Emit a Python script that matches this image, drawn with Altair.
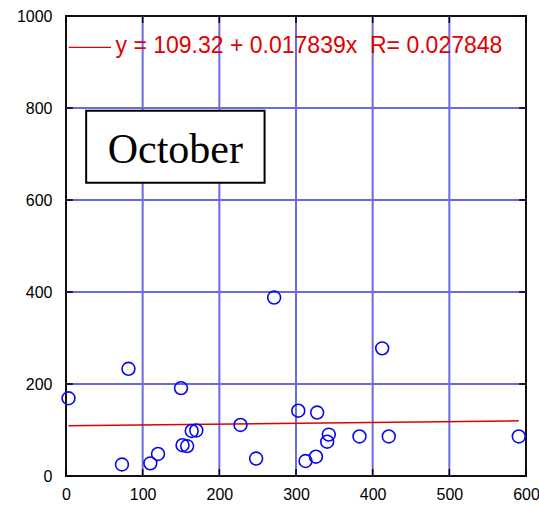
import altair as alt
import pandas as pd

# October observations
x_vals = [3.3, 81.5, 73, 110, 120, 150, 152, 158, 164, 170, 227.6, 248, 271.5,
          303, 312.4, 326, 327.6, 342.8, 340.7, 382.8, 412.4, 421, 590.6]
y_vals = [169, 233, 25, 27.5, 48, 191, 67, 65, 98, 99, 111, 38, 388,
          142, 32.6, 42, 138, 90, 74.6, 86, 277.5, 86, 86]

# linear fit y = a + b x
fit_a = 109.32
fit_b = 0.017839
fit_r = 0.027848

x_ticks = [0, 100, 200, 300, 400, 500, 600]
y_ticks = [0, 200, 400, 600, 800, 1000]
x_grid = [100, 200, 300, 400, 500]
y_grid = [200, 400, 600, 800]

pts = pd.DataFrame({"x": x_vals, "y": y_vals})
xmin, xmax = min(x_vals), max(x_vals)
fit = pd.DataFrame({"x": [xmin, xmax], "y": [fit_a + fit_b * xmin, fit_a + fit_b * xmax]})

xs = alt.Scale(domain=[0, 600], nice=False, zero=False)
ys = alt.Scale(domain=[0, 1000], nice=False, zero=False)
font = "Liberation Sans, Arial, sans-serif"
grid_color = "#6a6ae4"
red = "#e00000"

base = alt.Chart(pts)

points = base.mark_point(shape="circle", filled=False, color="#0808ee",
                         size=165, strokeWidth=1.6, opacity=1).encode(
    x=alt.X("x:Q", scale=xs,
            axis=alt.Axis(values=x_ticks, title=None, grid=False, tickSize=0,
                          domain=False, labelPadding=10, labelFontSize=16,
                          labelFont=font, labelColor="black", format="d",
                          labelFlush=False)),
    y=alt.Y("y:Q", scale=ys,
            axis=alt.Axis(values=y_ticks, title=None, grid=False, tickSize=0,
                          domain=False, labelPadding=14, labelFontSize=16,
                          labelFont=font, labelColor="black", format="d",
                          labelFlush=False)),
)

vgrid = alt.Chart(pd.DataFrame({"g": x_grid})).mark_rule(
    color=grid_color, strokeWidth=2).encode(x=alt.X("g:Q", scale=xs))
hgrid = alt.Chart(pd.DataFrame({"g": y_grid})).mark_rule(
    color=grid_color, strokeWidth=2).encode(y=alt.Y("g:Q", scale=ys))

# inward ticks on all four sides
tick_len_x = 9
tick_len_y = 15
bt = alt.Chart(pd.DataFrame({"t": x_ticks})).mark_rule(color="black", strokeWidth=1.5).encode(
    x=alt.X("t:Q", scale=xs), y=alt.datum(0, scale=ys), y2=alt.datum(tick_len_y))
tt = alt.Chart(pd.DataFrame({"t": x_ticks})).mark_rule(color="black", strokeWidth=1.5).encode(
    x=alt.X("t:Q", scale=xs), y=alt.datum(1000, scale=ys), y2=alt.datum(1000 - tick_len_y))
lt = alt.Chart(pd.DataFrame({"t": y_ticks})).mark_rule(color="black", strokeWidth=1.5).encode(
    y=alt.Y("t:Q", scale=ys), x=alt.datum(0, scale=xs), x2=alt.datum(tick_len_x))
rt = alt.Chart(pd.DataFrame({"t": y_ticks})).mark_rule(color="black", strokeWidth=1.5).encode(
    y=alt.Y("t:Q", scale=ys), x=alt.datum(600, scale=xs), x2=alt.datum(600 - tick_len_x))

fit_line = alt.Chart(fit).mark_line(color=red, strokeWidth=1.5).encode(
    x=alt.X("x:Q", scale=xs), y=alt.Y("y:Q", scale=ys))

# legend entry for the fit
legend_line = alt.Chart(pd.DataFrame({"x": [3.5, 58.7], "y": [932, 932]})).mark_line(
    color=red, strokeWidth=1.2).encode(
    x=alt.X("x:Q", scale=xs), y=alt.Y("y:Q", scale=ys))
legend_text = alt.Chart(pd.DataFrame({
    "x": [64.6, 396.5], "y": [919.6, 919.6],
    "t": [f"y = {fit_a} + {fit_b}x", f"R= {fit_r}"]})).mark_text(
    align="left", baseline="alphabetic", color=red, fontSize=23, font=font).encode(
    x=alt.X("x:Q", scale=xs), y=alt.Y("y:Q", scale=ys), text="t:N")

# month label box
box = alt.Chart(pd.DataFrame({"x": [26.3], "x2": [259], "y": [637.6], "y2": [794]})).mark_rect(
    fill="white", stroke="black", strokeWidth=2).encode(
    x=alt.X("x:Q", scale=xs), x2="x2:Q", y=alt.Y("y:Q", scale=ys), y2="y2:Q")
box_text = alt.Chart(pd.DataFrame({"x": [142.6], "y": [680], "t": ["October"]})).mark_text(
    align="center", baseline="alphabetic", color="black", fontSize=42,
    font="Liberation Serif, Times New Roman, serif").encode(
    x=alt.X("x:Q", scale=xs), y=alt.Y("y:Q", scale=ys), text="t:N")

chart = alt.layer(
    vgrid, hgrid, bt, tt, lt, rt, fit_line, points, legend_line, legend_text, box, box_text
).properties(
    width=460, height=460,
    autosize=alt.AutoSizeParams(type="none"),
    padding={"left": 66, "top": 16, "right": 13, "bottom": 29},
    background="white",
).configure_view(stroke="#111111", strokeWidth=2)

chart.save("out.html", embed_options={"renderer": "svg", "actions": False})
